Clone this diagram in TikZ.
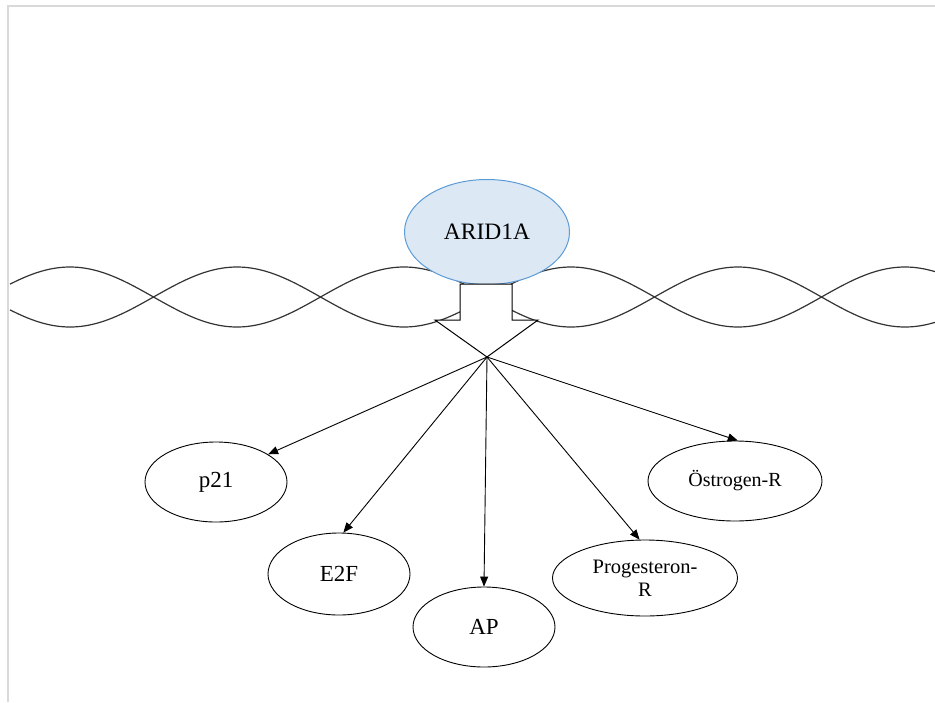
\documentclass[tikz,border=0pt]{standalone}
\usepackage{fontspec}
\setmainfont{Liberation Serif}
\usetikzlibrary{shapes.geometric,arrows.meta}
\definecolor{framegray}{HTML}{D9D9D9}
\definecolor{wavegray}{HTML}{333333}
\definecolor{aridfill}{HTML}{DDE8F5}
\definecolor{ariddraw}{HTML}{5B9BD5}
\tikzset{
  target/.style={ellipse, draw=black, line width=0.9pt, fill=white, inner sep=0pt,
    font=\fontsize{23}{25}\selectfont, align=center},
  wave/.style={draw=wavegray, line width=1.2pt},
  conn/.style={draw=black, line width=0.9pt, -{Triangle[length=10pt,width=8pt]}},
}
\begin{document}
\begin{tikzpicture}[x=1pt,y=-1pt]
\useasboundingbox (0,0) rectangle (935,702);
% frame
\draw[framegray, line width=2pt] (8,702) -- (8,6) -- (935,6);
% waves
\draw[wave] plot[domain=10:935, samples=300, smooth] (\x, {297-30*cos(1.07784*(\x-70))});
\draw[wave] plot[domain=10:935, samples=300, smooth] (\x, {297+30*cos(1.07784*(\x-70))});
% ARID1A
\node[ellipse, draw=ariddraw, fill=aridfill, line width=1pt, minimum width=165, minimum height=105,
  inner sep=0pt, font=\fontsize{23.5}{26}\selectfont] (arid) at (487,232) {ARID1A};
% block arrow
\draw[black, fill=white, line width=1pt]
  (460,284) -- (512,284) -- (512,320) -- (538,320) -- (487,357) -- (435,320) -- (460,320) -- cycle;
\coordinate (tip) at (487,357);
% targets
\node[target, minimum width=142, minimum height=80] (p21) at (216,482) {p21};
\node[target, minimum width=142, minimum height=82] (e2f) at (339,574) {E2F};
\node[target, minimum width=142, minimum height=80] (ap) at (484,627) {AP};
\node[target, minimum width=185, minimum height=76, font=\fontsize{20.5}{23}\selectfont] (prog) at (645,578) {Progesteron-\\R};
\node[target, minimum width=174, minimum height=80, font=\fontsize{20}{23}\selectfont] (oest) at (735,481) {Östrogen-R};
% connectors
\draw[conn] (tip) -- (p21.28);
\draw[conn] (tip) -- (e2f.84);
\draw[conn] (tip) -- (ap.90);
\draw[conn] (tip) -- (prog.98);
\draw[conn] (tip) -- (oest.86);
\end{tikzpicture}
\end{document}
